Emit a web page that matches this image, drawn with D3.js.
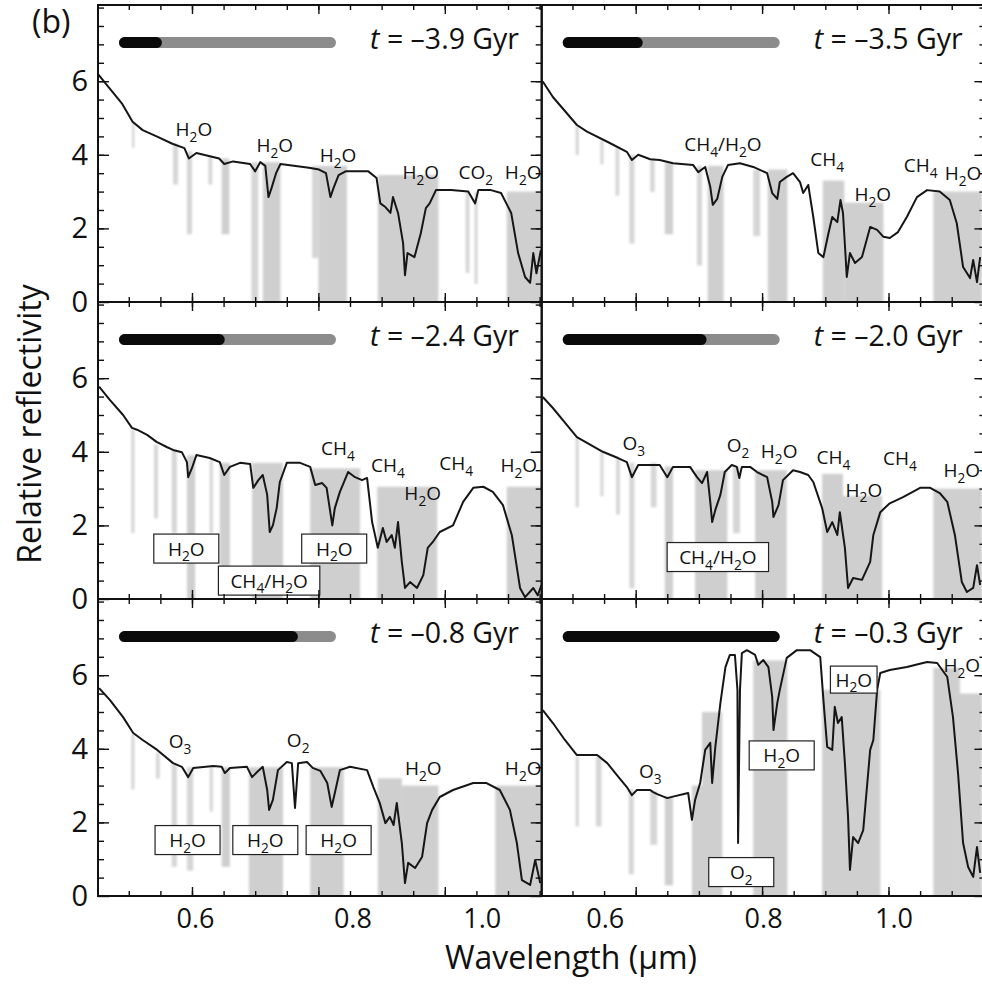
<!DOCTYPE html>
<meta charset="utf-8">
<style>
html, body { margin: 0; padding: 0; background: #fff; }
svg { display: block; }
text { font-family: "Open Sans", sans-serif; fill: #111; }
.tick line { stroke: #111; stroke-width: 1.4; }
</style>
<body>
<script src="https://d3js.org/d3.v7.min.js"></script>
<script>

var width = 982,
    height = 991;

var left0 = 98, top0 = 5,
    pw = 443.7, ph = 297;

// ---- data ----
var epochs = [-3.9, -3.5, -2.4, -2.0, -0.8, -0.3];
var timeline = [0.155, 0.335, 0.46, 0.645, 0.815, 1.0];

var yTicks = [0, 2, 4, 6];
var xTicks = [0.6, 0.8, 1.0];

// spectra [wavelength µm, reflectivity]
var line39 = [[0.451,6.2],[0.470,5.8],[0.489,5.4],[0.506,4.9],[0.522,4.67],[0.544,4.5],[0.569,4.3],[0.588,4.18],[0.595,3.9],[0.607,4.05],[0.643,3.9],[0.651,3.75],[0.665,3.82],[0.692,3.75],[0.700,3.55],[0.708,3.8],[0.716,3.7],[0.721,2.85],[0.726,3.1],[0.733,3.5],[0.740,3.75],[0.785,3.65],[0.801,3.6],[0.812,3.5],[0.819,2.85],[0.824,3.1],[0.832,3.45],[0.843,3.55],[0.879,3.55],[0.892,3.37],[0.898,2.68],[0.906,2.58],[0.914,2.42],[0.918,2.85],[0.926,2.42],[0.934,1.6],[0.937,0.73],[0.941,1.33],[0.952,1.22],[0.962,1.87],[0.970,2.55],[0.976,2.68],[0.986,3.04],[1.010,3.04],[1.037,3.0],[1.048,2.68],[1.053,3.04],[1.073,3.04],[1.089,2.96],[1.105,2.42],[1.116,1.33],[1.127,0.68],[1.135,0.52],[1.140,1.33],[1.145,0.78],[1.152,1.41]];
var line35 = [[0.453,5.99],[0.469,5.57],[0.507,4.81],[0.523,4.63],[0.559,4.32],[0.586,4.08],[0.594,3.86],[0.604,4.0],[0.623,3.88],[0.638,3.86],[0.659,3.77],[0.691,3.72],[0.699,3.53],[0.710,3.67],[0.718,3.13],[0.722,2.64],[0.729,2.8],[0.737,3.4],[0.746,3.72],[0.765,3.77],[0.786,3.67],[0.808,3.5],[0.816,2.96],[0.824,2.8],[0.828,3.26],[0.839,3.4],[0.849,3.5],[0.860,3.26],[0.865,2.96],[0.873,3.18],[0.881,2.31],[0.889,1.33],[0.897,1.22],[0.905,1.87],[0.911,2.31],[0.919,2.17],[0.924,2.77],[0.928,2.42],[0.934,0.68],[0.939,1.33],[0.947,1.06],[0.958,1.22],[0.971,2.04],[0.982,1.96],[0.992,1.77],[1.002,1.74],[1.015,1.9],[1.029,2.31],[1.045,2.85],[1.061,3.04],[1.081,3.0],[1.097,2.77],[1.108,2.14],[1.118,0.95],[1.129,0.65],[1.134,1.14],[1.140,0.54],[1.145,1.22]];
var line24 = [[0.453,5.77],[0.470,5.41],[0.491,5.0],[0.505,4.65],[0.513,4.6],[0.529,4.46],[0.544,4.27],[0.560,4.13],[0.570,4.05],[0.584,3.99],[0.592,3.72],[0.594,3.31],[0.600,3.56],[0.607,3.91],[0.628,3.83],[0.644,3.72],[0.651,3.37],[0.660,3.59],[0.676,3.7],[0.692,3.67],[0.697,3.02],[0.705,3.23],[0.712,3.37],[0.719,2.83],[0.723,1.82],[0.728,2.0],[0.734,2.47],[0.739,3.18],[0.750,3.7],[0.771,3.7],[0.787,3.59],[0.795,3.1],[0.806,3.15],[0.813,3.02],[0.822,2.0],[0.826,2.47],[0.834,2.91],[0.847,3.45],[0.858,3.31],[0.869,3.23],[0.877,3.29],[0.885,2.09],[0.894,1.39],[0.902,1.93],[0.908,1.55],[0.916,1.74],[0.921,1.39],[0.926,2.09],[0.932,1.01],[0.937,0.3],[0.945,0.46],[0.956,0.3],[0.966,0.65],[0.973,1.39],[0.981,1.55],[0.992,1.82],[1.013,2.0],[1.029,2.64],[1.045,3.02],[1.061,3.05],[1.076,2.91],[1.092,2.55],[1.106,1.74],[1.119,0.3],[1.127,0.05],[1.140,0.3],[1.147,0.1],[1.153,0.38]];
var line20 = [[0.453,5.49],[0.469,5.19],[0.491,4.73],[0.507,4.4],[0.523,4.24],[0.548,4.0],[0.572,3.83],[0.586,3.72],[0.594,3.31],[0.604,3.64],[0.623,3.64],[0.638,3.64],[0.650,3.31],[0.659,3.59],[0.686,3.59],[0.697,3.31],[0.705,3.15],[0.713,3.45],[0.718,2.64],[0.721,2.09],[0.726,2.42],[0.734,2.83],[0.741,3.45],[0.752,3.64],[0.760,3.59],[0.764,3.29],[0.768,3.59],[0.781,3.59],[0.792,3.45],[0.808,3.31],[0.816,2.64],[0.818,2.23],[0.826,2.55],[0.833,3.23],[0.849,3.5],[0.860,3.45],[0.873,3.37],[0.881,3.18],[0.895,2.47],[0.903,1.82],[0.911,2.09],[0.919,1.74],[0.923,2.36],[0.931,1.39],[0.936,0.3],[0.944,0.57],[0.958,0.52],[0.971,1.01],[0.976,1.74],[0.987,2.36],[1.002,2.6],[1.023,2.77],[1.050,3.02],[1.066,3.02],[1.081,2.88],[1.093,2.64],[1.105,1.74],[1.116,0.46],[1.124,0.19],[1.134,0.3],[1.140,0.92],[1.145,0.38]];
var line08 = [[0.453,5.65],[0.470,5.33],[0.491,4.86],[0.507,4.43],[0.522,4.24],[0.545,3.97],[0.570,3.61],[0.584,3.51],[0.594,3.23],[0.602,3.48],[0.634,3.53],[0.647,3.51],[0.652,3.34],[0.660,3.48],[0.687,3.51],[0.695,3.23],[0.703,3.37],[0.712,3.51],[0.719,2.88],[0.722,2.34],[0.728,2.61],[0.736,3.42],[0.750,3.64],[0.758,3.61],[0.763,2.39],[0.768,3.61],[0.782,3.64],[0.791,3.48],[0.803,3.4],[0.814,3.07],[0.821,2.42],[0.826,2.8],[0.834,3.42],[0.850,3.51],[0.877,3.42],[0.887,2.96],[0.897,2.53],[0.906,1.98],[0.913,2.15],[0.919,1.93],[0.924,2.53],[0.932,1.44],[0.937,0.35],[0.942,0.9],[0.953,0.76],[0.964,1.06],[0.972,1.98],[0.980,2.34],[0.992,2.69],[1.013,2.88],[1.045,3.07],[1.066,3.07],[1.087,2.88],[1.103,2.34],[1.114,1.44],[1.122,0.43],[1.135,0.3],[1.143,0.98],[1.151,0.35]];
var line03 = [[0.453,5.05],[0.469,4.7],[0.488,4.24],[0.507,3.83],[0.539,3.83],[0.555,3.61],[0.570,3.29],[0.586,2.96],[0.594,2.74],[0.602,2.88],[0.623,2.88],[0.627,2.83],[0.634,2.77],[0.650,2.66],[0.659,2.7],[0.683,2.8],[0.689,2.07],[0.694,2.61],[0.702,3.07],[0.710,3.97],[0.718,4.16],[0.721,3.07],[0.726,4.05],[0.734,5.24],[0.742,6.22],[0.749,6.55],[0.757,6.55],[0.761,5.6],[0.762,1.44],[0.765,5.6],[0.768,6.6],[0.776,6.68],[0.789,6.55],[0.794,6.28],[0.802,6.41],[0.810,6.22],[0.816,5.41],[0.818,4.51],[0.824,5.24],[0.828,5.6],[0.839,6.47],[0.855,6.68],[0.876,6.68],[0.892,6.49],[0.897,5.33],[0.903,4.05],[0.911,3.97],[0.915,5.14],[0.920,4.7],[0.926,4.86],[0.931,3.61],[0.936,2.15],[0.939,0.71],[0.944,1.6],[0.952,1.44],[0.960,1.79],[0.971,3.97],[0.976,4.24],[0.982,5.6],[0.987,6.06],[1.002,6.14],[1.029,6.22],[1.061,6.36],[1.077,6.33],[1.093,5.95],[1.102,4.86],[1.110,3.34],[1.118,1.44],[1.126,0.79],[1.134,0.52],[1.140,1.33],[1.145,0.63]];

// high-resolution absorption bands [from µm, to µm, low, high]
var shade39 = [[0.505,0.509,4.3,4.9],[0.570,0.578,3.3,4.3],[0.592,0.600,1.95,4.1],[0.626,0.632,3.3,3.95],[0.647,0.659,1.95,3.9],[0.694,0.705,0,3.8],[0.712,0.740,0,3.8],[0.790,0.800,1.3,3.7],[0.800,0.845,0,3.7],[0.894,0.990,0,3.45],[1.033,1.039,0.9,3.0],[1.047,1.052,0.6,3.0],[1.098,1.153,0,3.0]];
var shade35 = [[0.505,0.510,4.1,4.8],[0.544,0.549,3.85,4.4],[0.568,0.574,3.0,4.2],[0.590,0.598,1.7,4.0],[0.623,0.630,3.1,3.9],[0.646,0.659,1.95,3.8],[0.697,0.705,1.1,3.7],[0.714,0.739,0,3.7],[0.786,0.797,1.9,3.6],[0.809,0.840,0,3.6],[0.896,0.930,0,3.3],[0.930,0.992,0,2.7],[1.071,1.148,0,3.0]];
var shade24 = [[0.504,0.509,1.9,4.6],[0.540,0.546,2.3,4.2],[0.568,0.576,1.9,4.05],[0.592,0.605,0,3.9],[0.628,0.633,1.9,3.8],[0.644,0.660,0.7,3.7],[0.695,0.744,0,3.7],[0.787,0.866,0,3.55],[0.893,0.988,0,3.05],[1.098,1.153,0,3.05]];
var shade20 = [[0.505,0.510,2.6,4.4],[0.544,0.549,2.9,4.0],[0.569,0.575,2.4,3.85],[0.590,0.598,0.4,3.7],[0.624,0.633,2.6,3.7],[0.646,0.659,0,3.6],[0.694,0.745,0,3.5],[0.754,0.765,1.9,3.6],[0.789,0.839,0,3.5],[0.895,0.928,0,3.4],[0.928,0.990,0,2.8],[1.071,1.148,0,3.0]];
var shade08 = [[0.504,0.509,3.0,4.4],[0.543,0.549,3.3,3.9],[0.568,0.576,0.9,3.6],[0.592,0.602,0.8,3.5],[0.628,0.633,2.4,3.5],[0.647,0.660,0.9,3.5],[0.690,0.744,0,3.5],[0.787,0.840,0,3.5],[0.894,0.932,0,3.2],[0.932,0.990,0,3.0],[1.080,1.153,0,3.0]];
var shade03 = [[0.505,0.510,2.0,3.8],[0.537,0.546,2.0,3.8],[0.589,0.597,0.7,2.9],[0.623,0.634,1.5,2.85],[0.646,0.659,0.4,2.7],[0.689,0.705,0,3.0],[0.705,0.737,0,5.0],[0.786,0.840,0,6.4],[0.895,0.987,0,5.6],[1.071,1.113,0,6.2],[1.113,1.148,0,5.5]];

// annotations [label, µm, reflectivity]
var notes39 = [["H2O",0.603,4.51],["H2O",0.731,4.08],["H2O",0.831,3.80],["H2O",0.962,3.34],["CO2",1.049,3.34],["H2O",1.124,3.34]];
var notes35 = [["CH4/H2O",0.738,4.10],["CH4",0.903,3.70],["H2O",0.975,2.74],["CH4",1.051,3.53],["H2O",1.118,3.32]];
var notes24 = [["CH4",0.831,3.91],["CH4",0.910,3.45],["H2O",0.965,2.69],["CH4",1.018,3.51],["H2O",1.117,3.45]];
var notes20 = [["O3",0.597,4.05],["O2",0.762,3.99],["H2O",0.827,3.83],["CH4",0.913,3.66],["H2O",0.961,2.78],["CH4",1.018,3.64],["H2O",1.116,3.32]];
var notes08 = [["O3",0.581,4.02],["O2",0.768,4.05],["H2O",0.966,3.29],["H2O",1.124,3.29]];
var notes03 = [["O3",0.623,3.21],["H2O",1.116,6.09]];

// boxed annotations [label, µm, reflectivity, tight]
var boxes39 = [];
var boxes35 = [];
var boxes24 = [["H2O",0.591,1.37],["CH4/H2O",0.722,0.50],["H2O",0.825,1.37]];
var boxes20 = [["CH4/H2O",0.730,1.14]];
var boxes08 = [["H2O",0.593,1.52],["H2O",0.716,1.52],["H2O",0.832,1.52]];
var boxes03 = [["H2O",0.945,5.88,true],["H2O",0.831,3.82],["O2",0.767,0.65]];

var lines = [line39, line35, line24, line20, line08, line03];
var shades = [shade39, shade35, shade24, shade20, shade08, shade03];
var notes = [notes39, notes35, notes24, notes20, notes08, notes03];
var boxes = [boxes39, boxes35, boxes24, boxes20, boxes08, boxes03];

// tick labels sit slightly off their ticks in the original figure
var xLabelNudge = [[3, 34, 37], [-31, 1, 5]];

// ---- scales ----
var x = d3.scaleLinear().domain([0.4513, 1.1533]).range([0, pw]);
var y = d3.scaleLinear().domain([0, 8.07]).range([ph, 0]);
var bar = d3.scaleLinear().domain([0, 1]).range([26.5, 232.5]);

var minorX = d3.range(9, 24).map(function(i){ return i * 0.05; })
  .filter(function(d){ return d > 0.452 && d < 1.153; });
var minorY = d3.range(1, 17).map(function(i){ return i * 0.5; })
  .filter(function(d){ return d < 8.05; });

var svg = d3.select("body").append("svg")
  .attr("width", width)
  .attr("height", height);

var defs = svg.append("defs");
defs.append("filter").attr("id", "soft")
  .attr("x", "-5%").attr("y", "-5%").attr("width", "110%").attr("height", "110%")
  .append("feGaussianBlur").attr("stdDeviation", 0.9);

var noteSize = 19;

function chem(sel, s, size){
  var parts = s.split(/(\d)/).filter(function(d){ return d.length; });
  var down = false;
  parts.forEach(function(p){
    var t = sel.append("tspan").text(p);
    if (/^\d$/.test(p)) {
      t.attr("font-size", size * 0.72).attr("dy", size * 0.3);
      down = true;
    } else if (down) {
      t.attr("dy", -size * 0.3);
      down = false;
    }
  });
}

function tickAxis(g, axis, values, size, tx, ty){
  g.append("g")
    .attr("transform", "translate(" + tx + "," + ty + ")")
    .call(axis.tickValues(values).tickSize(size).tickFormat(""))
    .call(function(a){ a.select(".domain").remove(); });
}

epochs.forEach(function(t, i){
  var col = i % 2, row = Math.floor(i / 2);
  var g = svg.append("g")
    .attr("transform", "translate(" + (left0 + col * pw) + "," + (top0 + row * ph) + ")");

  g.append("clipPath").attr("id", "clip" + i)
    .append("rect").attr("width", pw).attr("height", ph);

  var plot = g.append("g").attr("clip-path", "url(#clip" + i + ")");

  plot.append("g").attr("filter", "url(#soft)")
    .selectAll("rect")
    .data(shades[i])
    .enter().append("rect")
    .attr("x", function(d){ return x(d[0]); })
    .attr("width", function(d){ return x(d[1]) - x(d[0]); })
    .attr("y", function(d){ return y(d[3]); })
    .attr("height", function(d){ return y(d[2]) - y(d[3]) + 4; })
    .attr("fill", function(d){ return (d[1] - d[0]) < 0.012 ? "#d6d6d6" : "#cfcfcf"; });

  plot.append("path")
    .datum(lines[i])
    .attr("fill", "none")
    .attr("stroke", "#161616")
    .attr("stroke-width", 2)
    .attr("stroke-linejoin", "round")
    .attr("d", d3.line().x(function(d){ return x(d[0]); }).y(function(d){ return y(d[1]); }));

  // timeline bar
  var by = y(7.05);
  g.append("line")
    .attr("x1", bar(0)).attr("x2", bar(1)).attr("y1", by).attr("y2", by)
    .attr("stroke", "#8c8c8c").attr("stroke-width", 11).attr("stroke-linecap", "round");
  g.append("line")
    .attr("x1", bar(0)).attr("x2", bar(timeline[i])).attr("y1", by).attr("y2", by)
    .attr("stroke", "#0a0a0a").attr("stroke-width", 11).attr("stroke-linecap", "round");

  // title
  var title = g.append("text")
    .attr("x", 421).attr("y", 44)
    .attr("text-anchor", "end")
    .attr("font-size", 28.5);
  title.append("tspan").attr("font-style", "italic").text("t");
  title.append("tspan").text(" = \u2013" + Math.abs(t).toFixed(1) + " Gyr");

  // plain annotations
  notes[i].forEach(function(n){
    var tx = g.append("text")
      .attr("x", x(n[1])).attr("y", y(n[2]))
      .attr("text-anchor", "middle")
      .attr("font-size", noteSize);
    chem(tx, n[0], noteSize);
  });

  // boxed annotations
  boxes[i].forEach(function(n){
    var cx = x(n[1]), cy = y(n[2]);
    var r = g.append("rect");
    var tx = g.append("text")
      .attr("x", cx).attr("y", cy + 7)
      .attr("text-anchor", "middle")
      .attr("font-size", noteSize);
    chem(tx, n[0], noteSize);
    var w = tx.node().getComputedTextLength();
    var bw = n[3] ? w + 10 : Math.max(w + 24, 65),
        bh = n[3] ? 27 : 29;
    r.attr("x", cx - bw / 2).attr("y", cy - bh / 2)
      .attr("width", bw).attr("height", bh)
      .attr("fill", "#fff").attr("stroke", "#222").attr("stroke-width", 1.2);
  });

  // inward ticks
  tickAxis(g, d3.axisTop(x), minorX, 5, 0, ph);
  tickAxis(g, d3.axisTop(x), xTicks, 9, 0, ph);
  tickAxis(g, d3.axisBottom(x), minorX, 5, 0, 0);
  tickAxis(g, d3.axisBottom(x), xTicks, 9, 0, 0);
  tickAxis(g, d3.axisLeft(y), minorY, 6, pw, 0);
  tickAxis(g, d3.axisLeft(y), yTicks, 11, pw, 0);
  if (col === 0) {
    tickAxis(g, d3.axisRight(y), minorY, 6, 0, 0);
    tickAxis(g, d3.axisRight(y), yTicks, 11, 0, 0);

    g.append("g")
      .call(d3.axisLeft(y).tickValues(yTicks).tickSize(0).tickPadding(10))
      .call(function(a){
        a.select(".domain").remove();
        a.selectAll("text").attr("font-size", 29).attr("fill", "#111")
          .attr("font-family", "Liberation Serif, serif");
      });
  }

  if (row === 2) {
    g.append("g")
      .attr("transform", "translate(0," + ph + ")")
      .call(d3.axisBottom(x).tickValues(xTicks).tickFormat(d3.format(".1f")).tickSize(0).tickPadding(13))
      .call(function(a){
        a.select(".domain").remove();
        a.selectAll("text").attr("font-size", 27).attr("fill", "#111")
          .attr("font-family", "Liberation Serif, serif")
          .attr("dx", function(d, j){ return xLabelNudge[col][j]; });
      });
  }

  g.append("rect")
    .attr("width", pw).attr("height", ph)
    .attr("fill", "none").attr("stroke", "#111").attr("stroke-width", 2);
});

svg.append("text")
  .attr("x", 571).attr("y", 969)
  .attr("text-anchor", "middle")
  .attr("font-size", 32)
  .text("Wavelength (\u03bcm)");

svg.append("text")
  .attr("transform", "translate(41,424) rotate(-90)")
  .attr("text-anchor", "middle")
  .attr("font-size", 32)
  .text("Relative reflectivity");

svg.append("text")
  .attr("x", 32).attr("y", 33)
  .attr("font-size", 32)
  .text("(b)");

</script>
</body>
